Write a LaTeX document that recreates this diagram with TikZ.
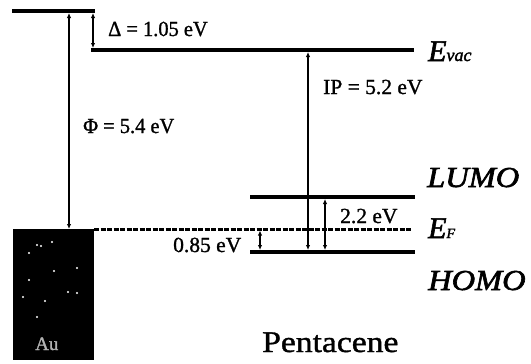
\documentclass[tikz,border=0pt]{standalone}
\usepackage{fontspec}
\setmainfont{Liberation Serif}[FakeBold=1.2]
\newfontfamily\heavyserif{Liberation Serif}[FakeBold=2]
\usetikzlibrary{arrows.meta}
\begin{document}
\begin{tikzpicture}[x=1pt,y=-1pt,
  level/.style={line width=4pt},
  fermi/.style={line width=3pt, dash pattern=on 5pt off 1.5pt},
  gaparrow/.style={line width=1.5pt, {Latex[length=5pt,width=4.5pt]}-{Latex[length=5pt,width=4.5pt]}},
  lab/.style={font=\fontsize{21.5}{24}\selectfont, inner sep=0pt, anchor=base west},
  orb/.style={font=\fontsize{29}{32}\selectfont\heavyserif\itshape, inner sep=0pt, anchor=base west, xscale=1.12},
  speck/.style={fill=white, draw=none}
]
\useasboundingbox (0,0) rectangle (531,364);
% Au block
\fill[black] (13,229) rectangle (94,360);
\foreach \p in {(37,245),(41,246),(52,242),(29,253),(77,268),(54,271),(29,280),(68,292),(77,293),(23,297),(45,301),(37,317)}
  \fill[speck] \p circle (1.1pt);
\node[inner sep=0pt, anchor=base west, text=gray!60, font=\fontsize{19}{20}\selectfont] (au) at (35,350) {Au};
% coordinates
\coordinate (mL) at (12,11);   \coordinate (mR) at (95,11);
\coordinate (vacL) at (91,50); \coordinate (vacR) at (414,50);
\coordinate (lumoL) at (250,197); \coordinate (lumoR) at (415,197);
\coordinate (efL) at (94,229); \coordinate (efR) at (412,229);
\coordinate (homoL) at (250,252); \coordinate (homoR) at (415,252);
% levels
\draw[level] (mL) -- (mR);
\draw[level] (vacL) -- (vacR);
\draw[level] (lumoL) -- (lumoR);
\draw[level] (homoL) -- (homoR);
\draw[fermi] (efL) -- (efR);
% arrows
\coordinate (phiT) at (69,13);  \coordinate (phiB) at (69,229);
\coordinate (delT) at (93,13);  \coordinate (delB) at (93,48);
\coordinate (ipT) at (308,52);  \coordinate (ipB) at (308,250);
\coordinate (egT) at (325,199); \coordinate (egB) at (325,250);
\coordinate (hT) at (260,230.5); \coordinate (hB) at (260,250);
\draw[gaparrow] (phiT) -- (phiB);
\draw[gaparrow] (delT) -- (delB);
\draw[gaparrow] (ipT) -- (ipB);
\draw[gaparrow] (egT) -- (egB);
\draw[gaparrow] (hT) -- (hB);
% labels
\node[lab, xscale=0.95] (dl) at (108,36) {Δ = 1.05 eV};
\node[lab, xscale=0.95] (pl) at (83,133) {Φ = 5.4 eV};
\node[lab] (il) at (323,94) {IP = 5.2 eV};
\node[lab] (gl) at (340,223) {2.2 eV};
\node[lab] (hl) at (173,252) {0.85 eV};
\node[inner sep=0pt, anchor=base west] (evac) at (428,61) {\heavyserif\itshape\fontsize{30}{32}\selectfont E\fontsize{18}{18}\selectfont vac};
\node[inner sep=0pt, anchor=base west] (ef) at (428,238) {\heavyserif\itshape\fontsize{30}{32}\selectfont E\fontsize{14}{14}\selectfont F};
\node[orb] (lumo) at (427,187) {LUMO};
\node[orb] (homo) at (428,290) {HOMO};
\node[inner sep=0pt, anchor=base west, font=\fontsize{30}{32}\selectfont, xscale=1.12] (pent) at (262,352) {Pentacene};
\end{tikzpicture}
\end{document}
